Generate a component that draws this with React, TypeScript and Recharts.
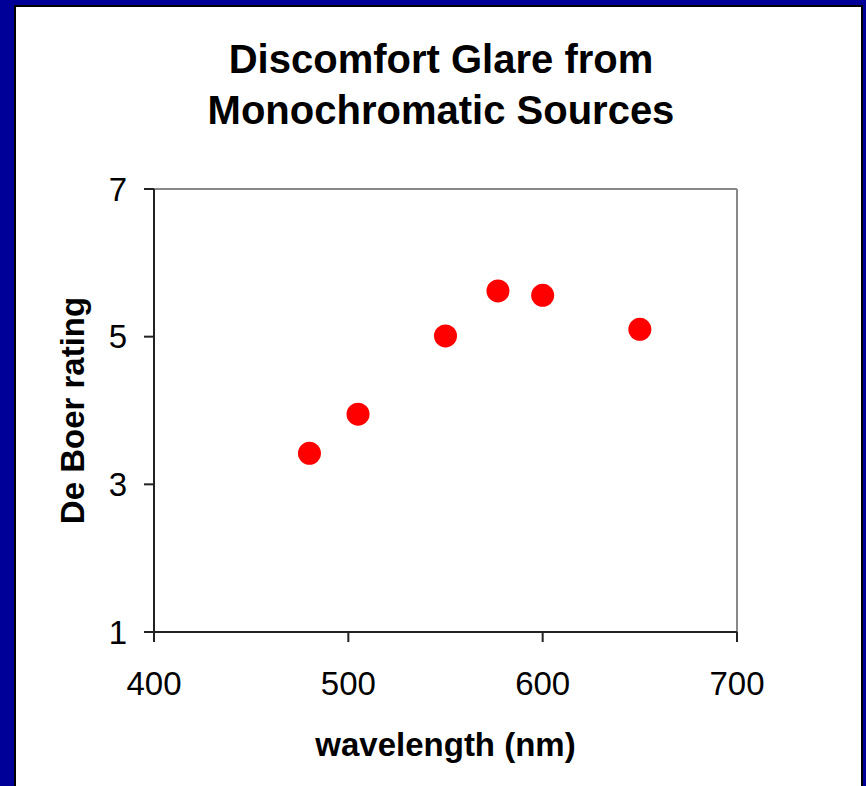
import React from 'react'
import {
  ScatterChart,
  Scatter,
  XAxis,
  YAxis,
  ReferenceLine,
} from 'recharts'

// Values
const wavelengths = [480, 505, 550, 577, 600, 650]
const ratings = [3.42, 3.95, 5.01, 5.62, 5.56, 5.1]
const xTicks = [400, 500, 600, 700]
const yTicks = [1, 3, 5, 7]

const data = wavelengths.map((w, i) => ({ wavelength: w, rating: ratings[i] }))

const FONT = 'Arial, "Liberation Sans", Helvetica, sans-serif'
const AXIS_COLOR = '#222'

const Dot = (props: any) => {
  const { cx, cy } = props
  if (cx == null || cy == null) return null
  return <circle cx={cx} cy={cy} r={11.5} fill="#ff0000" />
}

export default function App() {
  return (
    <div
      style={{
        position: 'absolute',
        left: 0,
        top: 0,
        width: 866,
        height: 786,
        background: '#000099',
        overflow: 'hidden',
        fontFamily: FONT,
      }}
    >
      <div
        style={{
          position: 'absolute',
          left: 14,
          top: 5,
          width: 849,
          height: 781,
          background: '#fff',
          border: '2px solid #000',
          borderBottom: 'none',
          boxSizing: 'border-box',
        }}
      />
      <div
        style={{
          position: 'absolute',
          left: 0,
          top: 34,
          width: 882,
          textAlign: 'center',
          fontSize: 40,
          fontWeight: 'bold',
          lineHeight: '51px',
          color: '#000',
        }}
      >
        Discomfort Glare from
        <br />
        Monochromatic Sources
      </div>
      <div style={{ position: 'absolute', left: 0, top: 0 }}>
        <ScatterChart
          width={866}
          height={786}
          margin={{ top: 189, right: 129, bottom: 94, left: 94 }}
        >
          <XAxis
            type="number"
            dataKey="wavelength"
            domain={[400, 700]}
            ticks={xTicks}
            interval={0}
            height={60}
            tickSize={10}
            tickMargin={30}
            stroke={AXIS_COLOR}
            strokeWidth={2}
            tick={{ fill: '#000', fontSize: 33, fontFamily: FONT }}
            label={{
              value: 'wavelength (nm)',
              position: 'bottom',
              offset: 41,
              fill: '#000',
              fontSize: 33,
              fontWeight: 'bold',
              fontFamily: FONT,
            }}
          />
          <YAxis
            type="number"
            dataKey="rating"
            domain={[1, 7]}
            ticks={yTicks}
            interval={0}
            width={60}
            tickSize={10}
            tickMargin={17}
            stroke={AXIS_COLOR}
            strokeWidth={2}
            tick={{ fill: '#000', fontSize: 33, fontFamily: FONT }}
            label={{
              value: 'De Boer rating',
              position: 'left',
              angle: -90,
              offset: 22,
              fill: '#000',
              fontSize: 33,
              fontWeight: 'bold',
              fontFamily: FONT,
              style: { textAnchor: 'middle' },
            }}
          />
          <ReferenceLine y={7} stroke="#888" strokeWidth={2} />
          <ReferenceLine x={700} stroke="#888" strokeWidth={2} />
          <Scatter data={data} shape={<Dot />} isAnimationActive={false} />
        </ScatterChart>
      </div>
    </div>
  )
}
